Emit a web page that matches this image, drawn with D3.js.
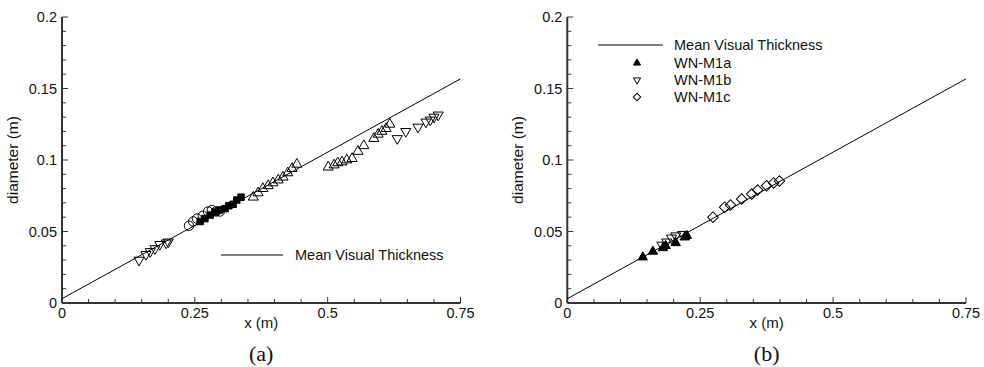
<!DOCTYPE html>
<html>
<head>
<meta charset="utf-8">
<script src="https://cdn.jsdelivr.net/npm/d3@7"></script>
<style>
  body { margin: 0; background: #fff; }
  text { font-family: "Liberation Sans", Arial, sans-serif; fill: #111; }
  .cap { font-family: "Liberation Serif", "Times New Roman", serif; }
</style>
</head>
<body>
<svg id="chart" width="984" height="367"></svg>
<script>
// mean visual thickness line: d = a + b*x
const lineCoef = [0.003, 0.205];
const lineX = [0, 0.75];

const xTicks = [0, 0.25, 0.5, 0.75];
const yTicks = [0, 0.05, 0.1, 0.15, 0.2];

// panel (a)
const aDownTriA = [[0.145,0.030],[0.158,0.034],[0.166,0.036],[0.175,0.038],[0.184,0.041],[0.196,0.042],[0.200,0.0427]];
const aCircle = [[0.239,0.054],[0.247,0.057],[0.254,0.059],[0.265,0.061],[0.275,0.064],[0.282,0.065],[0.290,0.064],[0.297,0.064]];
const aSquare = [[0.260,0.057],[0.269,0.059],[0.279,0.0615],[0.288,0.0636],[0.297,0.065],[0.307,0.066],[0.314,0.068],[0.322,0.069],[0.329,0.072],[0.337,0.074]];
const aUpTriA = [[0.360,0.074],[0.369,0.077],[0.378,0.080],[0.388,0.082],[0.397,0.084],[0.407,0.086],[0.416,0.088],[0.425,0.091],[0.433,0.094],[0.442,0.097]];
const aUpTriB = [[0.501,0.095],[0.512,0.0965],[0.519,0.098],[0.527,0.0986],[0.536,0.100],[0.546,0.101],[0.557,0.106],[0.568,0.110],[0.587,0.115],[0.595,0.118],[0.602,0.120],[0.610,0.122],[0.617,0.125]];
const aDownTriB = [[0.631,0.115],[0.647,0.120],[0.670,0.123],[0.685,0.1266],[0.693,0.128],[0.700,0.130],[0.708,0.1315]];

// panel (b)
const wnM1a = [[0.142,0.032],[0.161,0.036],[0.180,0.0385],[0.185,0.040],[0.204,0.042],[0.221,0.046],[0.225,0.047]];
const wnM1b = [[0.178,0.0405],[0.187,0.0427],[0.196,0.0455],[0.204,0.047],[0.217,0.048]];
const wnM1c = [[0.274,0.060],[0.296,0.067],[0.307,0.0685],[0.328,0.0727],[0.347,0.0762],[0.358,0.079],[0.375,0.082],[0.388,0.084],[0.399,0.0853]];

const legendB = ["Mean Visual Thickness", "WN-M1a", "WN-M1b", "WN-M1c"];

const svg = d3.select("#chart");
const y = d3.scaleLinear().domain([0, 0.2]).range([303, 17]);

const sym = {
  up: (s) => d3.symbol().type(d3.symbolTriangle).size(s)(),
  circle: (s) => d3.symbol().type(d3.symbolCircle).size(s)(),
  square: (s) => d3.symbol().type(d3.symbolSquare).size(s)(),
  diamond: (s) => d3.symbol().type(d3.symbolSquare).size(s)()
};
const rot = (kind, flip) => (flip ? " rotate(180)" : "") + (kind === "diamond" ? " rotate(45)" : "");

function marks(g, x, data, kind, size, filled, flip) {
  g.selectAll(null).data(data).join("path")
    .attr("d", sym[kind](size))
    .attr("transform", d => `translate(${x(d[0])},${y(d[1])})` + rot(kind, flip))
    .attr("fill", filled ? "#000" : "none")
    .attr("stroke", "#000")
    .attr("stroke-width", 1);
}

function panel(x0, x1, cap) {
  const x = d3.scaleLinear().domain([0, 0.75]).range([x0, x1]);
  const g = svg.append("g");

  // ticks point inward, minor every 0.05 / 0.01
  g.selectAll(null).data(d3.range(0, 0.7501, 0.05)).join("line")
    .attr("x1", d => x(d)).attr("x2", d => x(d))
    .attr("y1", y(0)).attr("y2", d => y(0) - (xTicks.some(t => Math.abs(t - d) < 1e-6) ? 6 : 4))
    .attr("stroke", "#333").attr("stroke-width", 1);
  g.selectAll(null).data(d3.range(0, 0.2001, 0.01)).join("line")
    .attr("y1", d => y(d)).attr("y2", d => y(d))
    .attr("x1", x(0)).attr("x2", d => x(0) + (Math.round(d * 100) % 5 === 0 ? 6 : 4))
    .attr("stroke", "#333").attr("stroke-width", 1);

  g.append("line").attr("x1", x(0)).attr("x2", x(0.75)).attr("y1", y(0)).attr("y2", y(0))
    .attr("stroke", "#333").attr("stroke-width", 2);
  g.append("line").attr("x1", x(0)).attr("x2", x(0)).attr("y1", y(0)).attr("y2", y(0.2))
    .attr("stroke", "#333").attr("stroke-width", 2);

  g.selectAll(null).data(xTicks).join("text")
    .attr("x", d => x(d)).attr("y", 318)
    .attr("text-anchor", "middle").attr("font-size", 14.5)
    .text(d => d3.format("")(d));
  g.selectAll(null).data(yTicks).join("text")
    .attr("x", x(0) - 5).attr("y", d => y(d) + 5)
    .attr("text-anchor", "end").attr("font-size", 14.5)
    .text(d => d3.format("")(d));

  g.append("text").attr("x", (x0 + x1) / 2).attr("y", 328)
    .attr("text-anchor", "middle").attr("font-size", 15).text("x (m)");
  g.append("text")
    .attr("transform", `translate(${x0 - 44},160) rotate(-90)`)
    .attr("text-anchor", "middle").attr("font-size", 15.5).text("diameter (m)");
  g.append("text").attr("class", "cap").attr("x", (x0 + x1) / 2).attr("y", 361)
    .attr("text-anchor", "middle").attr("font-size", 22).text(cap);

  // mean visual thickness
  g.append("line")
    .attr("x1", x(lineX[0])).attr("y1", y(lineCoef[0] + lineCoef[1] * lineX[0]))
    .attr("x2", x(lineX[1])).attr("y2", y(lineCoef[0] + lineCoef[1] * lineX[1]))
    .attr("stroke", "#000").attr("stroke-width", 1);
  return { g, x };
}

// (a)
const A = panel(62, 460.5, "(a)");
marks(A.g, A.x, aDownTriA, "up", 44, false, true);
marks(A.g, A.x, aCircle, "circle", 70, false, false);
marks(A.g, A.x, aSquare, "square", 42, true, false);
marks(A.g, A.x, aUpTriA, "up", 44, false, false);
marks(A.g, A.x, aUpTriB, "up", 44, false, false);
marks(A.g, A.x, aDownTriB, "up", 44, false, true);

A.g.append("line").attr("x1", 221).attr("x2", 283).attr("y1", 255).attr("y2", 255)
  .attr("stroke", "#000").attr("stroke-width", 1);
A.g.append("text").attr("x", 295).attr("y", 260).attr("font-size", 14.5).text(legendB[0]);

// (b)
const B = panel(567.3, 966, "(b)");
marks(B.g, B.x, wnM1a, "up", 38, true, false);
marks(B.g, B.x, wnM1b, "up", 44, false, true);
marks(B.g, B.x, wnM1c, "diamond", 56, false, false);

const lg = B.g.append("g");
lg.append("line").attr("x1", 598).attr("x2", 663).attr("y1", 45).attr("y2", 45)
  .attr("stroke", "#000").attr("stroke-width", 1);
const legY = [45, 63, 80, 97];
lg.selectAll(null).data(legendB).join("text")
  .attr("x", 674).attr("y", (d, i) => legY[i] + 5).attr("font-size", 14.5).text(d => d);
const legSym = [["up", 22, true, false], ["up", 22, false, true], ["diamond", 28, false, false]];
lg.selectAll(null).data(legSym).join("path")
  .attr("d", d => sym[d[0]](d[1]))
  .attr("transform", (d, i) => `translate(637,${legY[i + 1]})` + rot(d[0], d[3]))
  .attr("fill", d => d[2] ? "#000" : "none")
  .attr("stroke", "#000").attr("stroke-width", 1);
</script>
</body>
</html>
